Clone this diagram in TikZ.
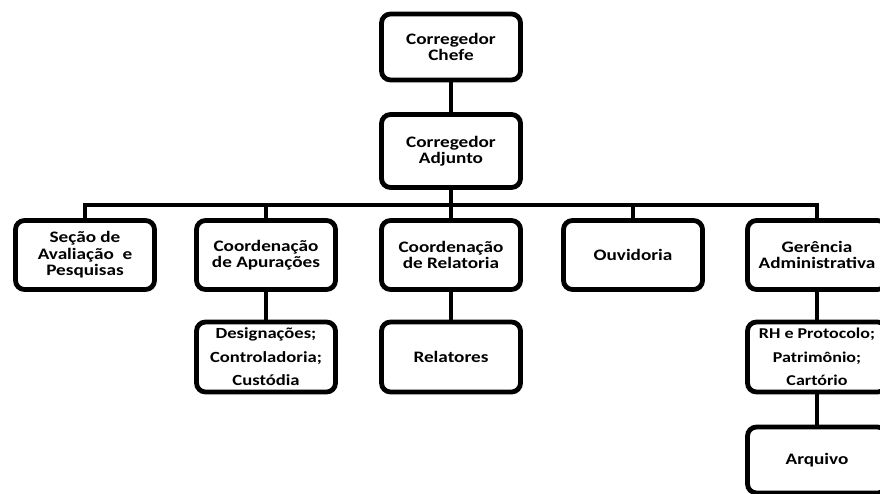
\documentclass[tikz,border=0pt]{standalone}
\usepackage{fontspec}
\setmainfont{Carlito}[FakeStretch=1.2]
\begin{document}
\begin{tikzpicture}[x=1pt,y=-1pt,
  box/.style={draw=black, line width=4.8pt, rounded corners=9pt, fill=white,
    minimum width=139pt, align=center, inner sep=2pt,
    font=\fontsize{16}{16.5}\selectfont\bfseries},
  conn/.style={draw=black, line width=4.8pt}]
\useasboundingbox (0,0) rectangle (880,494);
\clip (0,0) rectangle (880,494);
\fill[white] (0,0) rectangle (880,494);
% nodes
\node[box, minimum height=66pt] (chefe) at (451,47) {Corregedor\\Chefe};
\node[box, minimum height=73pt] (adj) at (451,151) {Corregedor\\Adjunto};
\node[box, minimum height=69pt] (seca) at (85,255) {Seção de\\Avaliação\ \ e\\Pesquisas};
\node[box, minimum height=69pt] (apur) at (266,255) {Coordenação\\de Apurações};
\node[box, minimum height=69pt] (rel) at (451,255) {Coordenação\\de Relatoria};
\node[box, minimum height=69pt] (ouv) at (633,255) {Ouvidoria};
\node[box, minimum height=69pt] (ger) at (817,255) {Gerência\\Administrativa};
\node[box, minimum height=70pt, font=\fontsize{15.5}{23.5}\selectfont\bfseries] (desig) at (266,357) {Designações;\\Controladoria;\\Custódia};
\node[box, minimum height=70pt] (relat) at (451,357) {Relatores};
\node[box, minimum height=70pt, font=\fontsize{15}{23.5}\selectfont\bfseries] (rh) at (817,357) {RH e Protocolo;\\Patrimônio;\\Cartório};
\node[box, minimum height=66pt] (arq) at (817,460) {Arquivo};
% connectors
\coordinate (bus) at (0,205);
\draw[conn] (chefe.south) -- (adj.north);
\draw[conn] (adj.south) -- (adj.south |- bus);
\draw[conn] (seca.north) |- (adj.south |- bus) -| (ger.north);
\draw[conn] (apur.north) -- (apur.north |- bus);
\draw[conn] (rel.north) -- (rel.north |- bus);
\draw[conn] (ouv.north) -- (ouv.north |- bus);
\draw[conn] (apur.south) -- (desig.north);
\draw[conn] (rel.south) -- (relat.north);
\draw[conn] (ger.south) -- (rh.north);
\draw[conn] (rh.south) -- (arq.north);
\end{tikzpicture}
\end{document}
